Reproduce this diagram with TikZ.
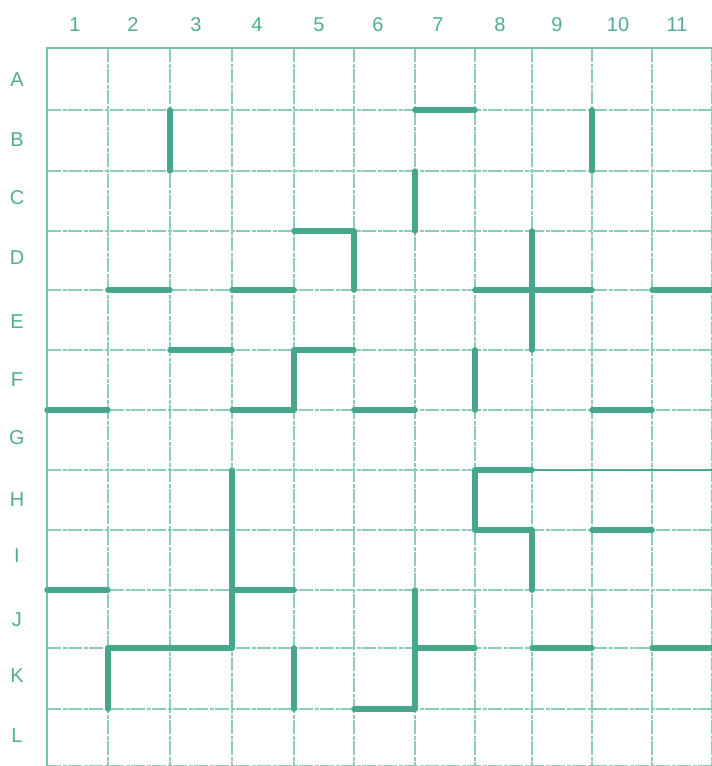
\documentclass[tikz,border=0pt]{standalone}
\usepackage{fontspec}
\setmainfont{Liberation Sans}
\definecolor{wallc}{RGB}{72,166,140}
\definecolor{gridc}{RGB}{140,205,184}
\definecolor{labc}{RGB}{80,172,146}
\begin{document}
\begin{tikzpicture}[x=1pt,y=-1pt,
  gridline/.style={draw=gridc,line width=1.1pt,dash pattern=on 14pt off 1.5pt on 4pt off 1.5pt},
  borderline/.style={draw=gridc!70!wallc,line width=2pt},
  wall/.style={draw=wallc,line width=5.5pt,line cap=round,line join=round},
  lab/.style={text=labc,font=\fontsize{20}{20}\selectfont,inner sep=0pt}]
\useasboundingbox (0,0) rectangle (712,766);
% named grid points
\def\xs{47,108,170,232,294,354,415,475,532,592,652,712}
\def\ys{48,110,171,231,290,350,410,470,530,590,648,709,766}
\foreach \xv [count=\i from 0] in \xs {
  \foreach \yv [count=\j from 0] in \ys {
    \coordinate (p-\i-\j) at (\xv,\yv);
  }
}
% grid
\foreach \i in {1,...,11} { \draw[gridline] (p-\i-0) -- (p-\i-12); }
\foreach \j in {1,...,12} { \draw[gridline] (p-0-\j) -- (p-11-\j); }
\draw[borderline] (p-0-12) -- (p-0-0) -- (p-11-0);
% column labels
\foreach \t/\xv in {1/75,2/133,3/196,4/257,5/319,6/378,7/438,8/500,9/557,10/618,11/677}
  \node[lab] (c\t) at (\xv,25) {\t};
% row labels
\foreach \t/\yv in {A/80,B/140,C/198,D/258,E/322,F/380,G/438,H/500,I/556,J/620,K/676,L/736}
  \node[lab] (r\t) at (17,\yv) {\t};
% walls
\draw[wall] (p-6-1) -- (p-7-1);
\draw[wall] (p-2-1) -- (p-2-2);
\draw[wall] (p-9-1) -- (p-9-2);
\draw[wall] (p-6-2) -- (p-6-3);
\draw[wall] (p-4-3) -- (p-5-3) -- (p-5-4);
\draw[wall] (p-8-3) -- (p-8-5);
\draw[wall] (p-1-4) -- (p-2-4);
\draw[wall] (p-3-4) -- (p-4-4);
\draw[wall] (p-7-4) -- (p-9-4);
\draw[wall] (p-10-4) -- (p-11-4);
\draw[wall] (p-2-5) -- (p-3-5);
\draw[wall] (p-5-5) -- (p-4-5) -- (p-4-6) -- (p-3-6);
\draw[wall] (p-0-6) -- (p-1-6);
\draw[wall] (p-5-6) -- (p-6-6);
\draw[wall] (p-7-5) -- (p-7-6);
\draw[wall] (p-9-6) -- (p-10-6);
\draw[wall] (p-8-7) -- (p-7-7) -- (p-7-8) -- (p-8-8) -- (p-8-9);
\draw[draw=wallc,line width=2pt] (p-8-7) -- (p-11-7);
\draw[wall] (p-9-8) -- (p-10-8);
\draw[wall] (p-3-7) -- (p-3-10);
\draw[wall] (p-3-9) -- (p-4-9);
\draw[wall] (p-0-9) -- (p-1-9);
\draw[wall] (p-3-10) -- (p-1-10) -- (p-1-11);
\draw[wall] (p-4-10) -- (p-4-11);
\draw[wall] (p-5-11) -- (p-6-11) -- (p-6-9);
\draw[wall] (p-6-10) -- (p-7-10);
\draw[wall] (p-8-10) -- (p-9-10);
\draw[wall] (p-10-10) -- (p-11-10);
\end{tikzpicture}
\end{document}
